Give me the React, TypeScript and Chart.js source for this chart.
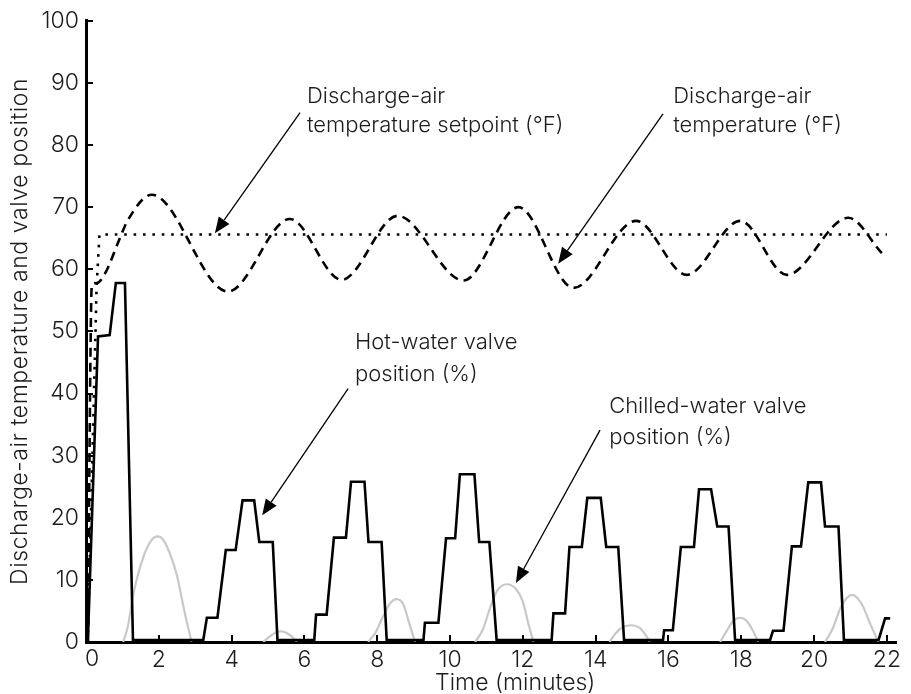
import React, { useEffect, useRef } from "react";
import { Chart, registerables } from "chart.js";

Chart.register(...registerables);

const FONT = "Inter";
const TEXT_COLOR = "#1c1c1c";

// Axis ticks
const xTickValues = [0, 2, 4, 6, 8, 10, 12, 14, 16, 18, 20, 22];
const yTickValues = [0, 10, 20, 30, 40, 50, 60, 70, 80, 90, 100];

// Discharge-air temperature (°F), dashed
const tempTime = [0.05, 0.16, 0.3, 0.52, 0.93, 1.13, 1.81, 3.9, 5.6, 7.02, 8.56, 10.37, 11.88, 13.39, 15.11, 16.5, 17.97, 19.25, 20.94, 21.86];
const tempValue = [0, 57.5, 57.8, 59.3, 65.0, 67.7, 72.0, 56.4, 68.1, 58.3, 68.6, 58.2, 70.0, 57.0, 67.8, 59.1, 67.8, 59.1, 68.3, 62.6];

// Discharge-air temperature setpoint (°F), dotted
const setpointTime = [0.05, 0.29, 0.37, 22.0];
const setpointValue = [0, 57.0, 65.6, 65.6];

// Hot-water valve position (%), solid black
const hotTime = [
  0.05, 0.33, 0.65, 0.82, 1.07, 1.29,
  3.22, 3.32, 3.61, 3.84, 4.11, 4.30, 4.62, 4.76, 5.13, 5.26,
  6.27, 6.32, 6.61, 6.81, 7.14, 7.28, 7.65, 7.76, 8.12, 8.26,
  9.27, 9.31, 9.68, 9.89, 10.14, 10.27, 10.67, 10.80, 11.08, 11.28,
  12.79, 12.84, 13.16, 13.28, 13.62, 13.77, 14.14, 14.29, 14.62, 14.78,
  15.85, 15.88, 16.12, 16.34, 16.70, 16.84, 17.17, 17.34, 17.65, 17.83,
  18.79, 18.87, 19.16, 19.39, 19.64, 19.84, 20.19, 20.30, 20.67, 20.82,
  21.77, 21.95, 22.09,
];
const hotValue = [
  0, 49.2, 49.4, 57.8, 57.8, 0.3,
  0.3, 3.9, 3.9, 14.8, 14.8, 22.8, 22.8, 16.1, 16.1, 0.3,
  0.3, 4.4, 4.4, 16.8, 16.8, 25.8, 25.8, 16.1, 16.1, 0.3,
  0.3, 3.1, 3.1, 16.7, 16.7, 27.0, 27.0, 16.1, 16.1, 0.3,
  0.3, 4.6, 4.6, 15.3, 15.3, 23.2, 23.2, 15.3, 15.3, 0.3,
  0.3, 1.9, 1.9, 15.3, 15.3, 24.6, 24.6, 18.6, 18.6, 0.3,
  0.3, 1.8, 1.8, 15.4, 15.4, 25.7, 25.7, 18.6, 18.6, 0.3,
  0.3, 3.8, 3.8,
];

// Chilled-water valve position (%), light grey (null = gap)
const chillTime = [
  1.02, 1.15, 1.30, 1.57, 1.80, 1.97, 2.15, 2.35, 2.49, 2.72, 2.90, 2.95,
  4.87, 5.05, 5.20, 5.35, 5.50, 5.65, 5.80, 5.85,
  7.75, 7.95, 8.15, 8.35, 8.54, 8.72, 8.88, 9.04, 9.10,
  10.69, 10.90, 11.10, 11.30, 11.56, 11.80, 12.00, 12.15, 12.29, 12.35,
  14.38, 14.55, 14.75, 14.99, 15.20, 15.35, 15.49, 15.55,
  17.42, 17.60, 17.78, 17.97, 18.15, 18.32, 18.47, 18.55,
  20.30, 20.50, 20.75, 21.04, 21.30, 21.55, 21.77,
];
const chillValue = [
  0, 2.5, 7.7, 13.6, 16.4, 17.0, 16.2, 13.5, 10.9, 4.5, 0, null,
  0, 0.9, 1.5, 1.7, 1.5, 0.9, 0, null,
  0, 1.5, 4.0, 6.2, 6.9, 6.0, 3.0, 0, null,
  0, 2.0, 5.5, 8.3, 9.3, 8.6, 6.5, 3.0, 0, null,
  0, 1.4, 2.4, 2.7, 2.3, 1.3, 0, null,
  0, 1.8, 3.4, 3.9, 3.4, 1.8, 0, null,
  0, 2.0, 5.8, 7.6, 6.2, 2.8, 0,
];

// Annotation labels (text lines) and arrows, in data units
const annotationLines = [
  ["Discharge-air", "temperature setpoint (°F)"],
  ["Discharge-air", "temperature (°F)"],
  ["Hot-water valve", "position (%)"],
  ["Chilled-water valve", "position (%)"],
];
const annotationTextAt = [
  { t: 6.07, v: [87.9, 83.1] },
  { t: 16.13, v: [87.9, 83.1] },
  { t: 7.39, v: [48.2, 43.1] },
  { t: 14.37, v: [37.9, 33.0] },
];
const annotationArrows = [
  { from: [5.88, 85.2], to: [3.54, 65.8] },
  { from: [15.85, 85.0], to: [12.97, 60.9] },
  { from: [7.2, 40.8], to: [4.84, 20.4] },
  { from: [14.12, 34.1], to: [11.81, 9.5] },
];

const xTitle = "Time (minutes)";
const yTitle = "Discharge-air temperature and valve position";

const toXY = (ts: number[], vs: (number | null)[]) => ts.map((t, i) => ({ x: t, y: vs[i] }));

const decorPlugin = {
  id: "decor",
  afterDraw(chart: any) {
    const { ctx, chartArea } = chart;
    const xs = chart.scales.x;
    const ys = chart.scales.y;
    ctx.save();
    // inward tick marks
    ctx.strokeStyle = "#000";
    ctx.lineWidth = 2;
    xTickValues.forEach((v) => {
      if (v === 0) return;
      const px = Math.round(xs.getPixelForValue(v));
      ctx.beginPath();
      ctx.moveTo(px, chartArea.bottom);
      ctx.lineTo(px, chartArea.bottom - 7);
      ctx.stroke();
    });
    yTickValues.forEach((v) => {
      if (v === 0) return;
      const py = Math.round(ys.getPixelForValue(v));
      ctx.beginPath();
      ctx.moveTo(chartArea.left, py);
      ctx.lineTo(chartArea.left + 7, py);
      ctx.stroke();
    });

    // "0" label of the time axis, drawn just right of the axis line
    ctx.fillStyle = TEXT_COLOR;
    ctx.font = `300 23px ${FONT}`;
    ctx.textAlign = "center";
    ctx.textBaseline = "middle";
    ctx.fillText(String(xTickValues[0]), xs.getPixelForValue(xTickValues[0]) + 6, chartArea.bottom + 17);

    // annotation text
    ctx.font = `300 22px ${FONT}`;
    ctx.textAlign = "left";
    ctx.textBaseline = "middle";
    annotationLines.forEach((lines, i) => {
      const pos = annotationTextAt[i];
      lines.forEach((line, j) => {
        ctx.fillText(line, xs.getPixelForValue(pos.t), ys.getPixelForValue(pos.v[j]));
      });
    });

    // arrows
    ctx.strokeStyle = "#000";
    ctx.fillStyle = "#000";
    ctx.lineWidth = 1.3;
    annotationArrows.forEach((a) => {
      const x1 = xs.getPixelForValue(a.from[0]);
      const y1 = ys.getPixelForValue(a.from[1]);
      const x2 = xs.getPixelForValue(a.to[0]);
      const y2 = ys.getPixelForValue(a.to[1]);
      const ang = Math.atan2(y2 - y1, x2 - x1);
      const len = 16;
      const hw = 6.5;
      const bx = x2 - len * Math.cos(ang);
      const by = y2 - len * Math.sin(ang);
      ctx.beginPath();
      ctx.moveTo(x1, y1);
      ctx.lineTo(bx, by);
      ctx.stroke();
      ctx.beginPath();
      ctx.moveTo(x2, y2);
      ctx.lineTo(bx + hw * Math.sin(ang), by - hw * Math.cos(ang));
      ctx.lineTo(bx - hw * Math.sin(ang), by + hw * Math.cos(ang));
      ctx.closePath();
      ctx.fill();
    });

    // axis titles
    ctx.fillStyle = TEXT_COLOR;
    ctx.font = `300 23px ${FONT}`;
    ctx.textAlign = "center";
    ctx.textBaseline = "middle";
    ctx.fillText(xTitle, xs.getPixelForValue(11.79), chartArea.bottom + 41);

    ctx.save();
    ctx.translate(20, (chartArea.top + chartArea.bottom) / 2);
    ctx.rotate(-Math.PI / 2);
    ctx.font = `300 23px ${FONT}`;
    (ctx as any).letterSpacing = "0.6px";
    ctx.fillText(yTitle, 0, 0);
    ctx.restore();

    ctx.restore();
  },
};

export default function App() {
  const canvasRef = useRef<HTMLCanvasElement | null>(null);

  useEffect(() => {
    if (!canvasRef.current) return;
    const chart = new Chart(canvasRef.current, {
      type: "line",
      data: {
        datasets: [
          {
            label: "Hot-water valve position (%)",
            data: toXY(hotTime, hotValue),
            borderColor: "#000",
            borderWidth: 2.6,
            pointRadius: 0,
            tension: 0,
            borderJoinStyle: "miter",
          },
          {
            label: "Chilled-water valve position (%)",
            data: toXY(chillTime, chillValue),
            borderColor: "#c8c8c8",
            borderWidth: 2.2,
            pointRadius: 0,
            cubicInterpolationMode: "monotone",
            spanGaps: false,
          },
          {
            label: "Discharge-air temperature setpoint (°F)",
            data: toXY(setpointTime, setpointValue),
            borderColor: "#000",
            borderWidth: 2.6,
            borderDash: [2.6, 6.8],
            pointRadius: 0,
            tension: 0,
          },
          {
            label: "Discharge-air temperature (°F)",
            data: toXY(tempTime, tempValue),
            borderColor: "#000",
            borderWidth: 2.6,
            borderDash: [9, 6],
            pointRadius: 0,
            cubicInterpolationMode: "monotone",
          },
        ],
      },
      options: {
        responsive: false,
        animation: false,
        layout: { padding: { top: 19, right: 15, left: 0, bottom: 0 } },
        plugins: {
          legend: { display: false },
          tooltip: { enabled: false },
        },
        scales: {
          x: {
            type: "linear",
            min: 0,
            max: 22.25,
            afterBuildTicks: (scale: any) => {
              scale.ticks = xTickValues.map((v) => ({ value: v }));
            },
            afterFit: (scale: any) => {
              scale.height = 52;
            },
            grid: { display: false, drawTicks: false },
            border: { display: true, color: "#000", width: 3 },
            ticks: {
              padding: 4,
              color: TEXT_COLOR,
              font: { family: FONT, size: 23, weight: "300" as any },
              maxRotation: 0,
              autoSkip: false,
              callback: (v: any) => (v === 0 ? "" : String(v)),
            },
          },
          y: {
            type: "linear",
            min: 0,
            max: 100,
            afterBuildTicks: (scale: any) => {
              scale.ticks = yTickValues.map((v) => ({ value: v }));
            },
            afterFit: (scale: any) => {
              scale.width = 86;
            },
            grid: { display: false, drawTicks: false },
            border: { display: true, color: "#000", width: 3 },
            ticks: {
              padding: 7,
              color: TEXT_COLOR,
              font: { family: FONT, size: 23, weight: "300" as any },
              autoSkip: false,
            },
          },
        },
      },
      plugins: [decorPlugin],
    });
    return () => chart.destroy();
  }, []);

  return (
    <div style={{ position: "absolute", left: 0, top: 0, width: 911, height: 694, background: "#fff" }}>
      <canvas ref={canvasRef} width={911} height={694} style={{ display: "block" }} />
    </div>
  );
}
